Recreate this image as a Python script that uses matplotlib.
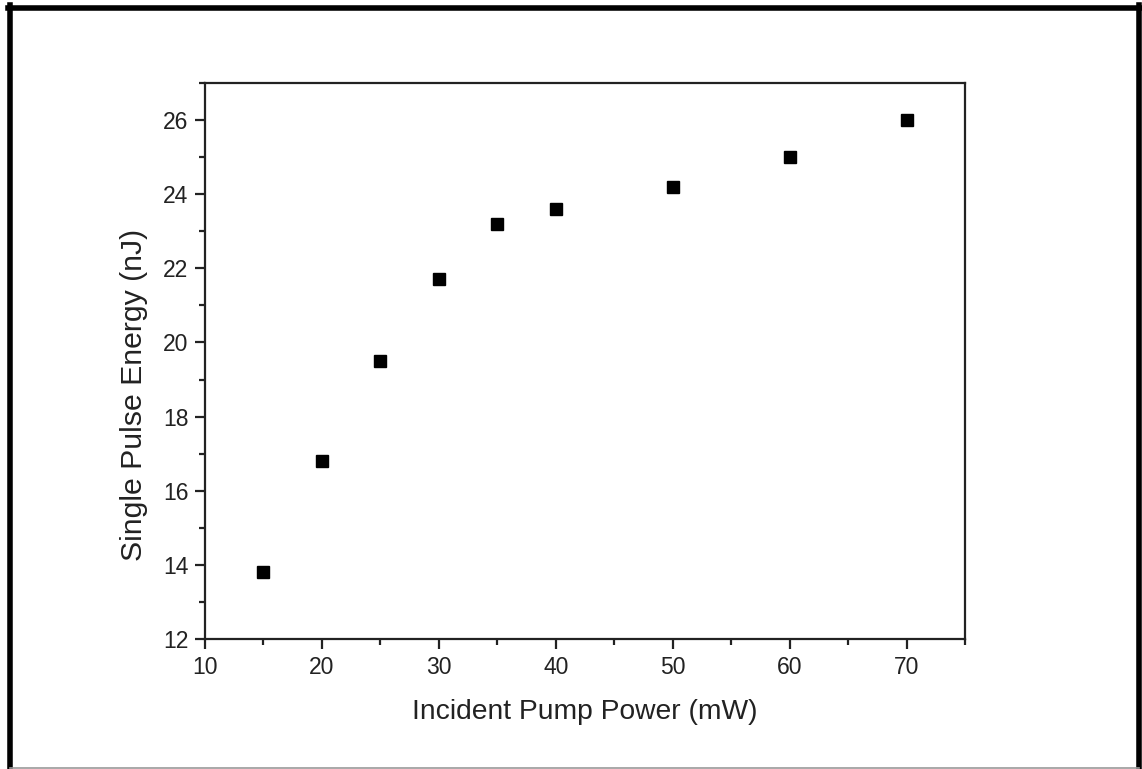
import matplotlib
matplotlib.use('Agg')
import matplotlib.pyplot as plt
from matplotlib.lines import Line2D
from matplotlib.ticker import MultipleLocator

# incident pump power (mW) vs single pulse energy (nJ)
power = [15, 20, 25, 30, 35, 40, 50, 60, 70]
energy = [13.8, 16.8, 19.5, 21.7, 23.2, 23.6, 24.2, 25.0, 26.0]

plt.rcParams['font.family'] = ['Liberation Sans', 'DejaVu Sans']

fig = plt.figure(figsize=(11.42, 7.69), dpi=100)
ax = fig.add_axes([205 / 1142, 1 - 639 / 769, 760 / 1142, 556 / 769])

ax.plot(power, energy, 's', color='black', markersize=9, linestyle='none')

ax.set_xlim(10, 75)
ax.set_ylim(12, 27)
ax.xaxis.set_major_locator(MultipleLocator(10))
ax.xaxis.set_minor_locator(MultipleLocator(5))
ax.yaxis.set_major_locator(MultipleLocator(2))
ax.yaxis.set_minor_locator(MultipleLocator(1))
ax.tick_params(which='both', direction='out', width=1.6, labelsize=16.5, colors='#222222')
ax.tick_params(which='major', length=7, pad=5)
ax.tick_params(which='minor', length=4)
for s in ax.spines.values():
    s.set_linewidth(1.6)
    s.set_color('#222222')

ax.set_xlabel('Incident Pump Power (mW)', fontsize=20.3, color='#222222', va='center')
ax.set_ylabel('Single Pulse Energy (nJ)', fontsize=21.8, color='#222222', va='center')
ax.xaxis.set_label_coords(0.5, -(712 - 639) / 556)
ax.yaxis.set_label_coords((134 - 205) / 760, (639 - 395) / 556)

# outer frame
fig.add_artist(Line2D([10 / 1142, 10 / 1142], [0, 1 - 5 / 769], transform=fig.transFigure,
                      color='black', linewidth=4))
fig.add_artist(Line2D([8 / 1142, 1141 / 1142], [1 - 7.5 / 769, 1 - 7.5 / 769], transform=fig.transFigure,
                      color='black', linewidth=4))
fig.add_artist(Line2D([1139 / 1142, 1139 / 1142], [0, 1 - 5 / 769], transform=fig.transFigure,
                      color='black', linewidth=4))
fig.add_artist(Line2D([10 / 1142, 1139 / 1142], [1.5 / 769, 1.5 / 769], transform=fig.transFigure,
                      color='#999999', linewidth=1.2))

fig.savefig('out.png', dpi=100)
